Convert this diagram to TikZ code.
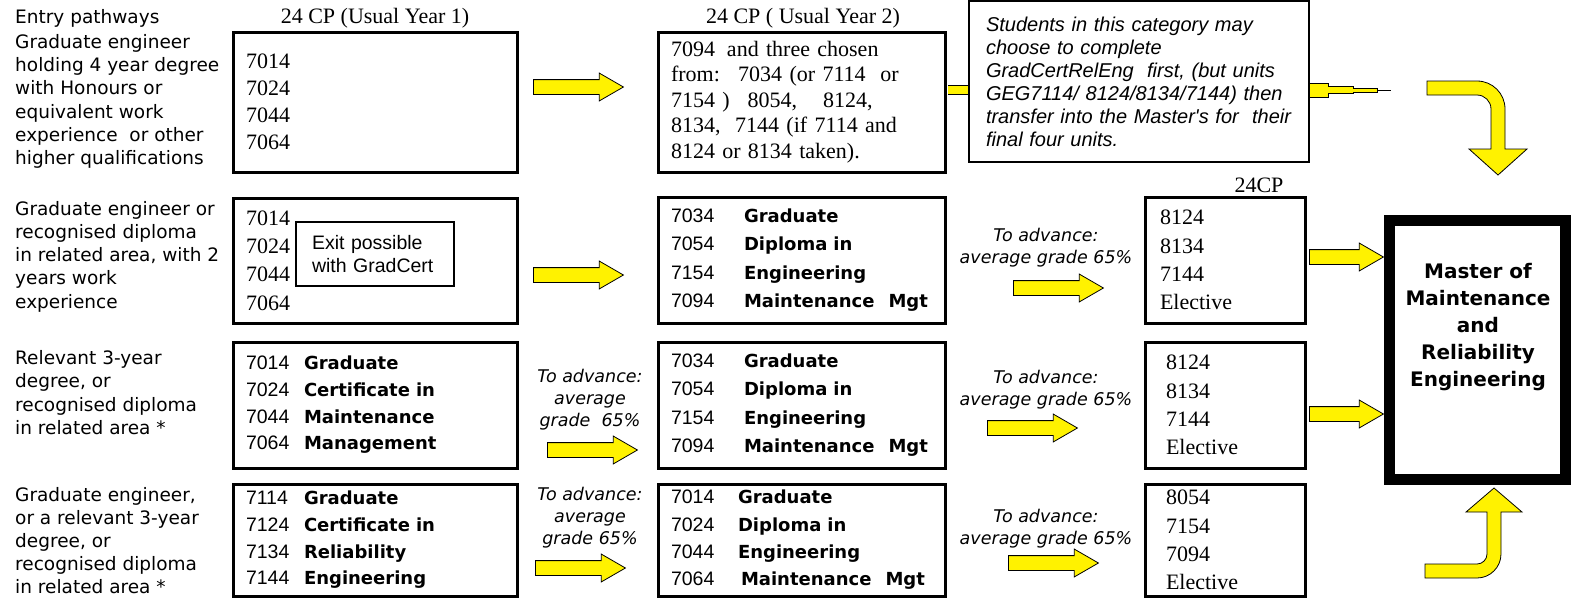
\documentclass[tikz,border=0pt]{standalone}
\usepackage{fontspec}
\setmainfont{Liberation Serif}
\newfontfamily\verd{DejaVu Sans}
\newfontfamily\arial{Liberation Sans}
\usetikzlibrary{shapes.arrows}

% unit code, then the words of the award
\newcommand{\cw}[3]{\makebox[#1][l]{\arial\mdseries\fontsize{19.5}{28}\selectfont #2}#3}

\begin{document}
\begin{tikzpicture}
[
x=1pt, y=1pt,
lbl/.style={anchor=west, align=left, inner sep=0pt, font=\verd\fontsize{18.5}{23.3}\selectfont},
hdr/.style={inner sep=0pt, font=\fontsize{22}{26}\selectfont},
box1/.style={rectangle, draw=black, fill=white, line width=3pt, inner xsep=13pt, inner ysep=0pt, align=left, minimum width=284pt, text width=258pt},
box2/.style={rectangle, draw=black, fill=white, line width=3pt, inner xsep=13pt, inner ysep=0pt, align=left, minimum width=287pt, text width=261pt},
box3/.style={rectangle, draw=black, fill=white, line width=3pt, inner xsep=15pt, inner ysep=0pt, align=left, minimum width=160pt, text width=130pt, font=\fontsize{22}{28.3}\selectfont},
serifcodes/.style={font=\fontsize{22}{#1}\selectfont},
units/.style={font=\verd\bfseries\fontsize{18}{#1}\selectfont},
notebox/.style={rectangle, draw=black, fill=white, line width=1.2pt, inner xsep=17pt, align=left, minimum width=340pt, minimum height=161pt, text width=306pt, font=\arial\itshape\fontsize{20}{23}\selectfont},
exitbox/.style={rectangle, draw=black, fill=white, line width=1.2pt, inner xsep=16pt, align=left, minimum width=158pt, minimum height=64pt, text width=126pt, font=\arial\fontsize{19.5}{23}\selectfont},
adv/.style={align=center, inner sep=0pt, font=\verd\itshape\fontsize{17.5}{22}\selectfont},
myarrow/.style={single arrow, draw=black, fill=yellow, line width=0.8pt, inner xsep=0pt, inner ysep=7pt,
      minimum width=27pt, single arrow head extend=6.5pt, single arrow tip angle=60,
      minimum height=90pt, anchor=tail},
yelshape/.style={draw=black, fill=yellow, line width=0.8pt},
stub/.style={draw=black, line width=0.8pt, double=yellow, double distance=8pt},
master/.style={rectangle, draw=black, fill=white, line width=11pt, minimum width=176pt, minimum height=259pt},
mtitle/.style={align=center, inner sep=0pt, font=\verd\bfseries\fontsize{20}{27}\selectfont},
]
\useasboundingbox (0,0) rectangle (1571,-598);

\node at (15,-18) [lbl] (entry) {Entry pathways};
\node at (375,-18) [hdr] (hyr1) {24 CP (Usual Year 1)};
\node at (803,-18) [hdr] (hyr2) {24 CP ( Usual Year 2)};
\node at (1259,-185) [hdr] (hcp) {24CP};

\node at (15,-101.5) [lbl] (p1) {Graduate engineer\\holding 4 year degree\\with Honours or\\equivalent work\\experience~ or other\\higher qualifications};
\node at (15,-256.5) [lbl] (p2) {Graduate engineer or\\recognised diploma\\in related area, with 2\\years work\\experience};
\node at (15,-392.5) [lbl] (p3) {Relevant 3-year\\degree, or\\recognised diploma\\in related area *};
\node at (15,-541) [lbl, font=\verd\fontsize{18.5}{23}\selectfont] (p4) {Graduate engineer,\\or a relevant 3-year\\degree, or\\recognised diploma\\in related area *};

\node at (375,-102) [box1, serifcodes=27, minimum height=140pt] (r1c1) {7014\\7024\\7044\\7064};
\node at (375,-260.5) [box1, serifcodes=28.3, minimum height=125pt] (r2c1) {7014\\7024\\7044\\7064};
\node at (375,-254) [exitbox] (exit) {Exit possible\\with GradCert};
\node at (375,-405) [box1, units=26.7, minimum height=126pt] (r3c1) {\cw{58pt}{7014}{Graduate}\\\cw{58pt}{7024}{Certificate in}\\\cw{58pt}{7044}{Maintenance}\\\cw{58pt}{7064}{Management}};
\node at (375,-540) [box1, units=26.7, minimum height=112pt] (r4c1) {\cw{58pt}{7114}{Graduate}\\\cw{58pt}{7124}{Certificate in}\\\cw{58pt}{7134}{Reliability}\\\cw{58pt}{7144}{Engineering}};

\node at (801.5,-102) [box2, serifcodes=25.5, minimum height=140pt] (r1c2) {7094\hspace{12pt}and three chosen\\from:~ 7034 (or 7114~ or\\7154 )\hspace{18pt}8054,\hspace{26pt}8124,\\8134,~ 7144 (if 7114 and\\8124 or 8134 taken).};
\node at (801.5,-260) [box2, units=28.3, minimum height=126pt] (r2c2) {\cw{73pt}{7034}{Graduate}\\\cw{73pt}{7054}{Diploma in}\\\cw{73pt}{7154}{Engineering}\\\cw{73pt}{7094}{Maintenance\hspace{14pt}Mgt}};
\node at (801.5,-405) [box2, units=28.3, minimum height=126pt] (r3c2) {\cw{73pt}{7034}{Graduate}\\\cw{73pt}{7054}{Diploma in}\\\cw{73pt}{7154}{Engineering}\\\cw{73pt}{7094}{Maintenance\hspace{14pt}Mgt}};
\node at (801.5,-540) [box2, units=27.3, minimum height=112pt] (r4c2) {\cw{67pt}{7014}{Graduate}\\\cw{67pt}{7024}{Diploma in}\\\cw{67pt}{7044}{Engineering}\\\cw{70pt}{7064}{Maintenance\hspace{14pt}Mgt}};

\node at (1139,-81.5) [notebox] (note) {Students in this category may\\choose to complete\\GradCertRelEng~ first, (but units\\GEG7114/ 8124/8134/7144) then\\transfer into the Master's for~ their\\final four units.};

\node at (1225,-260) [box3, minimum height=126pt] (r2c3) {8124\\8134\\7144\\Elective};
\node at (1225,-405) [box3, minimum height=126pt, inner xsep=21pt, text width=118pt] (r3c3) {8124\\8134\\7144\\Elective};
\node at (1225,-540) [box3, minimum height=112pt, inner xsep=21pt, text width=118pt] (r4c3) {8054\\7154\\7094\\Elective};

\node at (1477.5,-350) [master] (mmre) {};
\node at (1478,-327) [mtitle] (mtext) {Master of\\Maintenance\\and\\Reliability\\Engineering};

\node at (590,-400) [adv] (adv3a) {To advance:\\average\\grade~ 65\%};
\node at (590,-518) [adv] (adv4a) {To advance:\\average\\grade 65\%};
\node at (1046,-247.5) [adv] (adv2b) {To advance:\\average grade 65\%};
\node at (1046,-389.5) [adv] (adv3b) {To advance:\\average grade 65\%};
\node at (1046,-529) [adv] (adv4b) {To advance:\\average grade 65\%};

\node at (533,-87) [myarrow] (a11) {};
\node at (533,-275) [myarrow] (a21) {};
\node at (547,-450) [myarrow] (a31) {};
\node at (535,-568) [myarrow] (a41) {};
\node at (1013,-288) [myarrow] (a22) {};
\node at (987,-428) [myarrow] (a32) {};
\node at (1008,-563) [myarrow] (a42) {};
\node at (1309,-257) [myarrow, minimum height=74pt] (a23) {};
\node at (1309,-414) [myarrow, minimum height=74pt] (a33) {};

\coordinate (tap) at ([yshift=-8.5pt]note.east);
\coordinate (tapend) at ([xshift=81pt]tap);
\draw[stub, shorten <=1.5pt, shorten >=0.6pt] (r1c2.east |- tap) -- (note.west |- tap);
\draw[yelshape, line width=0.6pt] ([yshift=7pt]tap) -- ++(19,0) -- ++(0,-3.5) -- ++(25,0) -- ++(0,-1.5) -- ++(24,0) -- ++(0,-4) -- ++(-24,0) -- ++(0,-1.5) -- ++(-25,0) -- ++(0,-3.5) -- ++(-19,0) -- cycle;
\draw[line width=0.8pt] ([xshift=68pt]tap) -- (tapend);

\draw[yelshape] (1427,-81) -- (1477,-81) .. controls (1492.5,-81) and (1505,-93.5) .. (1505,-109) -- (1505,-149) -- (1527,-149) -- (1498,-175) -- (1469,-149) -- (1491,-149) -- (1491,-109) .. controls (1491,-101.3) and (1484.7,-95) .. (1477,-95) -- (1427,-95) -- cycle;
\draw[yelshape] (1425,-578) -- (1477,-578) .. controls (1490.2,-578) and (1501,-567.2) .. (1501,-554) -- (1501,-512) -- (1522,-512) -- (1494,-488) -- (1466,-512) -- (1487,-512) -- (1487,-554) .. controls (1487,-559.5) and (1482.5,-564) .. (1477,-564) -- (1425,-564) -- cycle;

\end{tikzpicture}
\end{document}
